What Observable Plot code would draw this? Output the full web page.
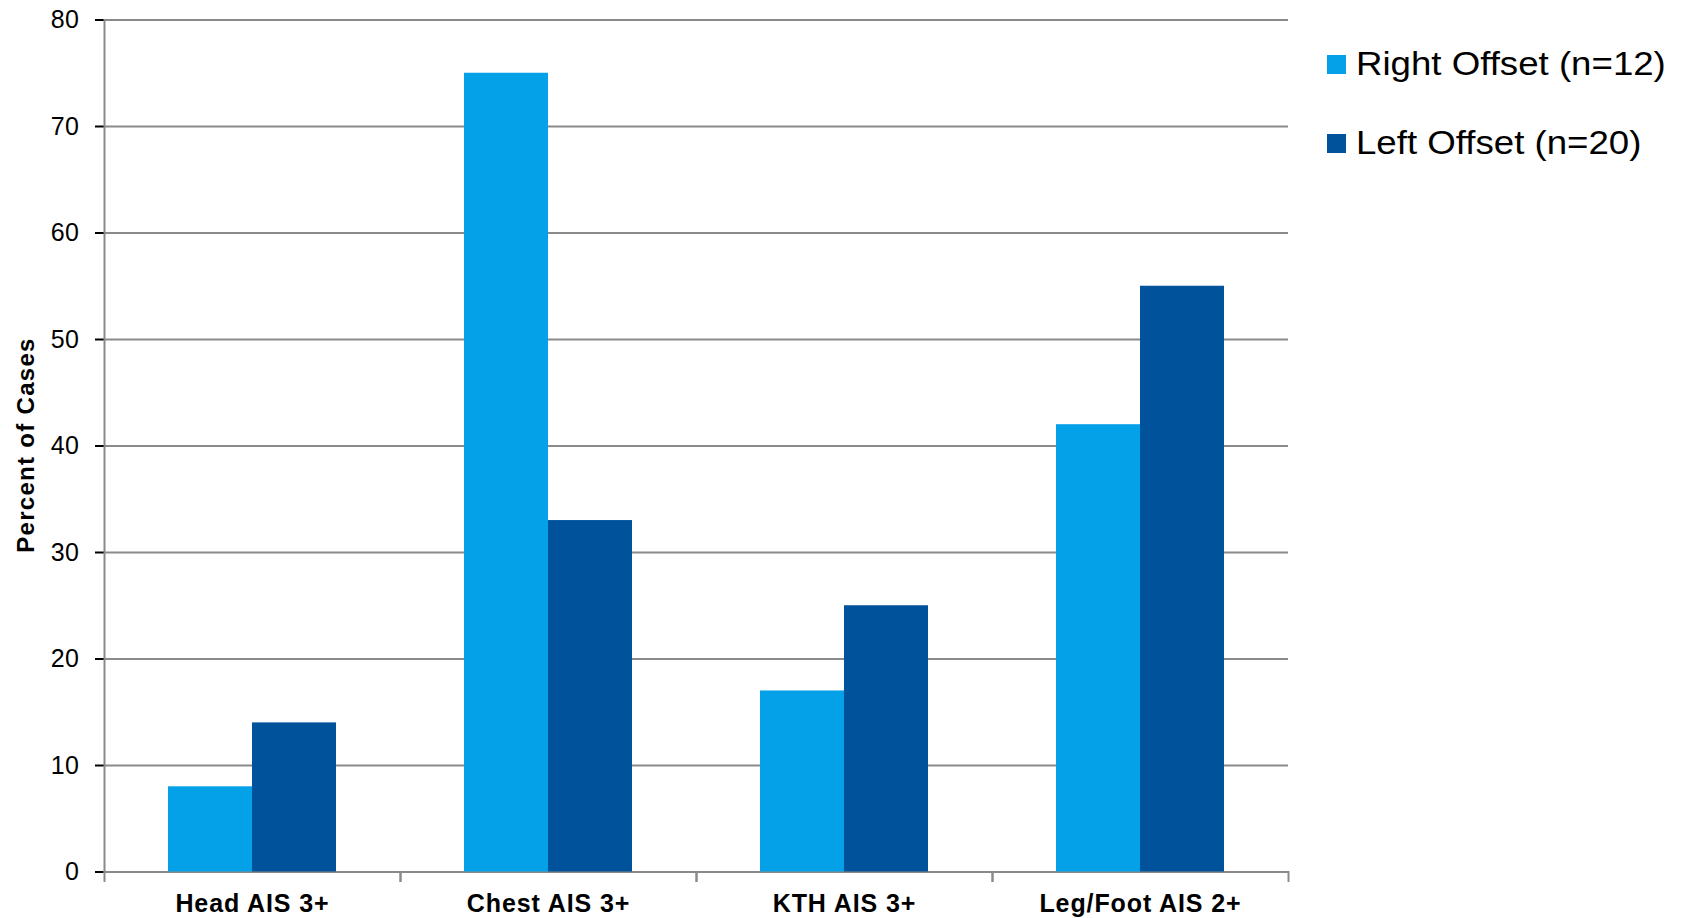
<!DOCTYPE html>
<html>
<head>
<meta charset="utf-8">
<script src="https://cdn.jsdelivr.net/npm/d3@7"></script>
<script src="https://cdn.jsdelivr.net/npm/@observablehq/plot@0.6"></script>
<style>
  html, body { margin: 0; padding: 0; background: #fff; }
  #wrap { position: relative; width: 1683px; height: 918px; font-family: "Liberation Sans", Arial, sans-serif; }
  #chart svg { display: block; }
  [aria-label="fx-axis tick label"] { font-weight: bold; font-size: 25px; letter-spacing: 0.9px; }
  [aria-label="y-axis tick label"] { font-size: 25px; letter-spacing: 0.5px; }
  [aria-label="y-axis tick"] { stroke: #8a8a8a; stroke-width: 2px; }
  .ytitle { position: absolute; left: 26px; top: 445px; transform: translate(-50%, -50%) rotate(-90deg);
            font-weight: bold; font-size: 24px; letter-spacing: 1.3px; white-space: nowrap; color: #000; }
  .leg { position: absolute; left: 1327px; font-size: 33px; color: #000; white-space: nowrap; line-height: 1; }
  .leg .sw { display: inline-block; width: 19px; height: 19px; margin-right: 10px; vertical-align: 1px; }
  .leg .tx { display: inline-block; transform: scaleX(1.11); transform-origin: left center; }
</style>
</head>
<body>
<div id="wrap">
  <div id="chart"></div>
  <div class="ytitle">Percent of Cases</div>
  <div id="legend"></div>
</div>
<script>
const categories = ["Head AIS 3+", "Chest AIS 3+", "KTH AIS 3+", "Leg/Foot AIS 2+"];
const seriesNames = ["Right Offset (n=12)", "Left Offset (n=20)"];
const seriesColors = ["#05A1E8", "#00529B"];
const rightOffset = [8, 75, 17, 42];
const leftOffset = [14, 33, 25, 55];
const yTicks = [0, 10, 20, 30, 40, 50, 60, 70, 80];

const data = [];
categories.forEach((c, i) => {
  data.push({category: c, series: seriesNames[0], value: rightOffset[i]});
  data.push({category: c, series: seriesNames[1], value: leftOffset[i]});
});

const gray = "#8a8a8a";

const chart = Plot.plot({
  width: 1683,
  height: 918,
  marginLeft: 102,
  marginRight: 394,
  marginTop: 19.5,
  marginBottom: 46.5,
  style: {fontFamily: "'Liberation Sans', Arial, sans-serif", color: "#000", background: "#fff"},
  fx: {domain: categories, padding: 0, tickSize: 0, tickPadding: 22, label: null},
  x: {domain: seriesNames, paddingInner: 0, paddingOuter: 0.756, axis: null},
  y: {domain: [0, 80], ticks: yTicks, tickSize: 9, tickPadding: 16, label: null},
  color: {domain: seriesNames, range: seriesColors},
  marks: [
    Plot.ruleY(yTicks, {stroke: gray, strokeWidth: 2}),
    Plot.barY(data, {fx: "category", x: "series", y: "value", fill: "series"}),
    Plot.frame({anchor: "left", stroke: gray, strokeWidth: 2, insetTop: 852, insetBottom: -9}),
    Plot.frame({anchor: "right", stroke: gray, strokeWidth: 2, insetTop: 852, insetBottom: -9}),
    Plot.frame({anchor: "left", facet: "super", stroke: gray, strokeWidth: 2})
  ]
});
document.getElementById("chart").appendChild(chart);

const legend = document.getElementById("legend");
const legTops = [47, 126];
seriesNames.forEach((s, i) => {
  const d = document.createElement("div");
  d.className = "leg";
  d.style.top = legTops[i] + "px";
  d.innerHTML = `<span class="sw" style="background:${seriesColors[i]}"></span><span class="tx">${s}</span>`;
  legend.appendChild(d);
});
</script>
</body>
</html>
